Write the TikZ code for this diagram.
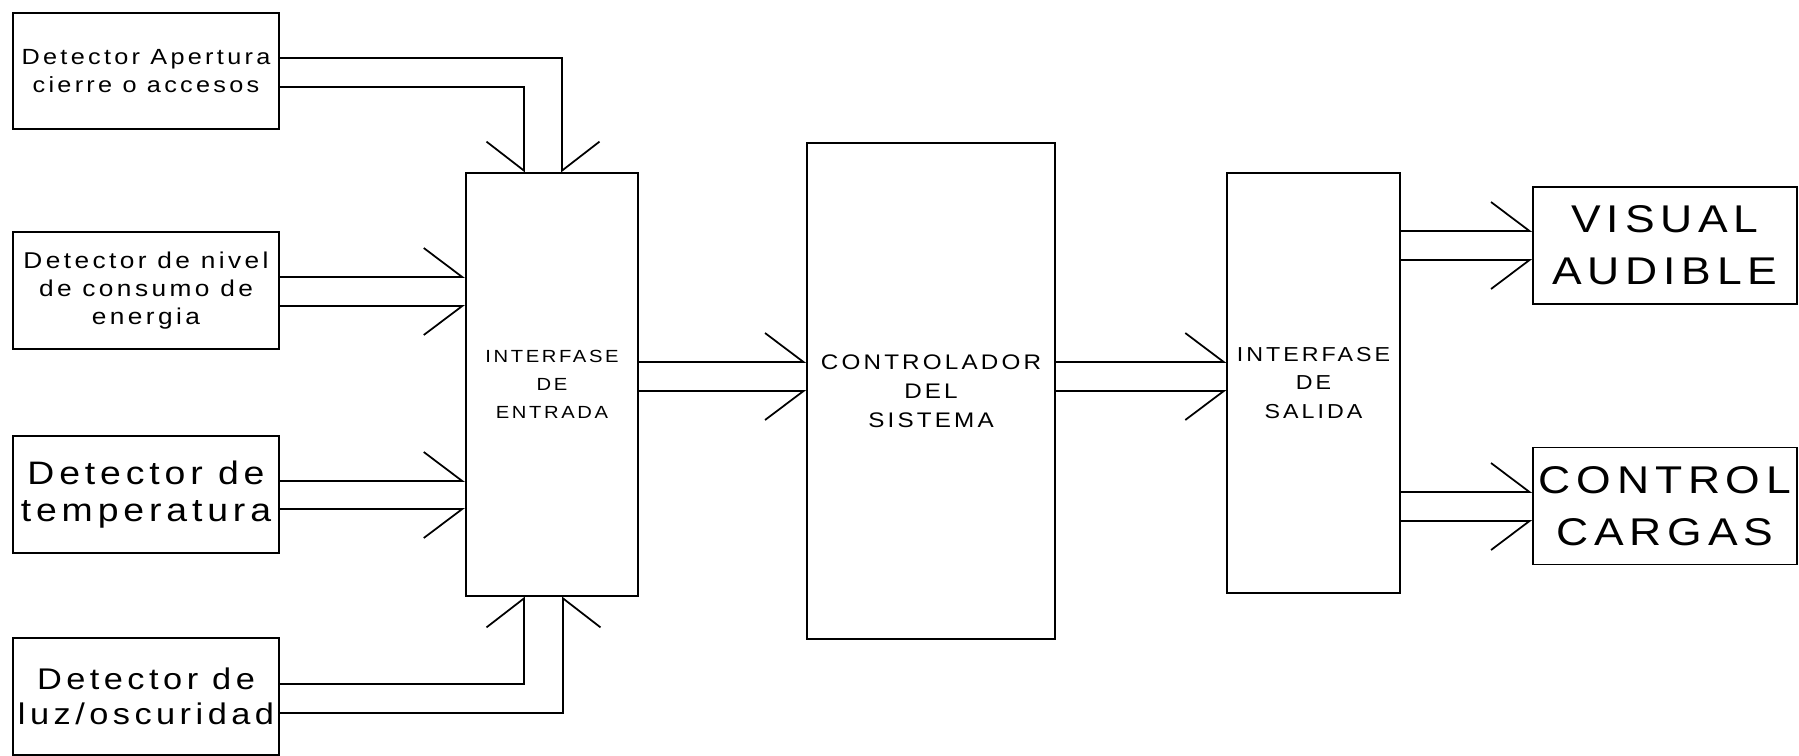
\documentclass[tikz,border=0pt]{standalone}
\usepackage{fontspec}
\newfontfamily\cadfont{Liberation Sans}[FakeStretch=1.15,LetterSpace=15]
\usetikzlibrary{arrows.meta,positioning,calc}
\tikzset{
  blk/.style={draw, line width=1pt, inner sep=2pt, align=center},
  det/.style={blk, minimum width=5.32cm, minimum height=2.33cm},
  detsmall/.style={det, font=\cadfont\fontsize{12.5}{16}\selectfont},
  detbig/.style={det, font=\cadfont\fontsize{17}{20}\selectfont},
  iface/.style={blk, minimum width=3.45cm, minimum height=8.45cm, font=\cadfont\fontsize{10}{16}\selectfont},
  ctrlbox/.style={blk, minimum width=4.96cm, minimum height=9.92cm, font=\cadfont\fontsize{12}{16.5}\selectfont},
  outbox/.style={blk, minimum width=5.28cm, minimum height=2.34cm, font=\cadfont\fontsize{22}{29.5}\selectfont},
  % horizontal buses
  busL/.style={line width=1pt, -{Straight Barb[left,length=7.7mm,width=11.6mm]}},
  busR/.style={line width=1pt, -{Straight Barb[right,length=7.7mm,width=11.6mm]}},
  % vertical buses
  vbusL/.style={line width=1pt, -{Straight Barb[left,length=5.8mm,width=15mm]}},
  vbusR/.style={line width=1pt, -{Straight Barb[right,length=5.8mm,width=15mm]}}
}
\begin{document}
\begin{tikzpicture}[x=0.02cm,y=-0.02cm]
\useasboundingbox (0,0) rectangle (1799,755);
% detectores
\node[detsmall] (det1) at (146,71) {Detector Apertura\\cierre o accesos};
\node[detsmall, font=\cadfont\fontsize{13}{16}\selectfont] (det2) at (146,290.5) {Detector de nivel\\de consumo de\\energia};
\node[detbig, font=\cadfont\fontsize{18.5}{21}\selectfont] (det3) at (146,494.5) {Detector de\\temperatura};
\node[detbig] (det4) at (146,696.5) {Detector de\\luz/oscuridad};
% bloques centrales
\node[iface] (ent) at (552,384.5) {INTERFASE\\DE\\ENTRADA};
\node[ctrlbox] (ctrl) at (931,391) {CONTROLADOR\\DEL\\SISTEMA};
\node[iface, minimum height=8.4cm, font=\cadfont\fontsize{11.5}{16}\selectfont] (sal) at (1313.5,383) {INTERFASE\\DE\\SALIDA};
% salidas
\node[outbox] (vis) at (1665,245.5) {VISUAL\\AUDIBLE};
\node[outbox] (carg) at (1665,506) {CONTROL\\CARGAS};
% entradas
\draw[vbusL] ([yshift=0.26cm]det1.east) -| ([xshift=0.2cm]ent.north);
\draw[vbusR] ([yshift=-0.32cm]det1.east) -| ([xshift=-0.56cm]ent.north);
\draw[busL] ([yshift=0.27cm]det2.east) -- ([yshift=0.27cm]det2.east -| ent.west);
\draw[busR] ([yshift=-0.31cm]det2.east) -- ([yshift=-0.31cm]det2.east -| ent.west);
\draw[busL] ([yshift=0.27cm]det3.east) -- ([yshift=0.27cm]det3.east -| ent.west);
\draw[busR] ([yshift=-0.29cm]det3.east) -- ([yshift=-0.29cm]det3.east -| ent.west);
\draw[vbusL] ([yshift=0.25cm]det4.east) -| ([xshift=-0.56cm]ent.south);
\draw[vbusR] ([yshift=-0.33cm]det4.east) -| ([xshift=0.22cm]ent.south);
% etapa central
\draw[busL] ([yshift=0.58cm]ctrl.west -| ent.east) -- ([yshift=0.58cm]ctrl.west);
\draw[busR] (ctrl.west -| ent.east) -- (ctrl.west);
\draw[busL] ([yshift=0.58cm]ctrl.east) -- ([yshift=0.58cm]ctrl.east -| sal.west);
\draw[busR] (ctrl.east) -- (ctrl.east -| sal.west);
% salidas
\draw[busL] ([yshift=0.29cm]vis.west -| sal.east) -- ([yshift=0.29cm]vis.west);
\draw[busR] ([yshift=-0.29cm]vis.west -| sal.east) -- ([yshift=-0.29cm]vis.west);
\draw[busL] ([yshift=0.28cm]carg.west -| sal.east) -- ([yshift=0.28cm]carg.west);
\draw[busR] ([yshift=-0.3cm]carg.west -| sal.east) -- ([yshift=-0.3cm]carg.west);
\end{tikzpicture}
\end{document}
